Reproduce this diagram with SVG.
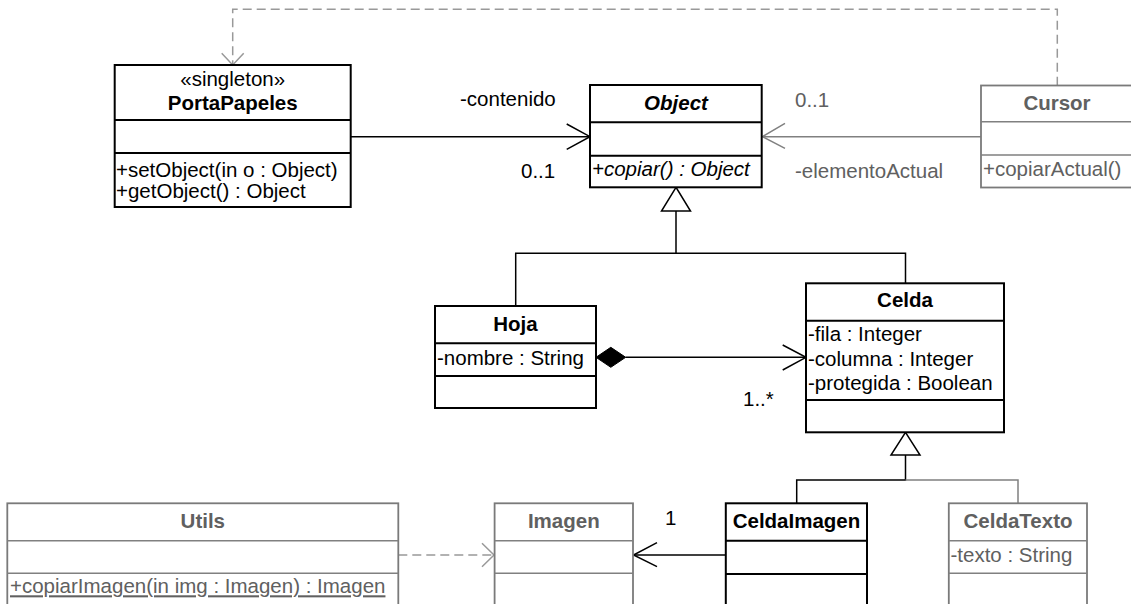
<svg xmlns="http://www.w3.org/2000/svg" width="1131" height="604" viewBox="0 0 1131 604">
<style>
text{font-family:"Liberation Sans",Arial,sans-serif;font-size:20.5px;fill:#000}
.b{font-weight:bold;text-anchor:middle}
.c{text-anchor:middle}
.box{fill:#fff;stroke:#000;stroke-width:2}
.gbox{fill:#fff;stroke:#7a7a7a;stroke-width:1.8}
.g text,text.g{fill:#606060}
.ln{fill:none;stroke:#000;stroke-width:1.5}
.gln{fill:none;stroke:#808080;stroke-width:1.5}
.dash{fill:none;stroke:#999;stroke-width:1.5;stroke-dasharray:9,5}
.dhead{fill:none;stroke:#999;stroke-width:1.5}
</style>
<rect width="1131" height="604" fill="#fff"/>
<g id="connectors">
  <path class="dash" d="M1057.3,85.7 V9.3 H232.7 V64"/>
  <path class="dhead" d="M221.7,53.3 L232.7,65 L243.7,53.3"/>
  <path class="ln" d="M350.7,136.7 H589"/>
  <path class="ln" d="M566.7,124 L590,136.7 L566.7,149.4"/>
  <path class="gln" d="M981,136.7 H763"/>
  <path class="gln" d="M785,123.3 L762.5,136.7 L785,148.3"/>
  <path class="ln" d="M515.7,306 V253.3 H905.5 V283.3 M676,211 V253.3"/>
  <polygon points="676,187.3 661.5,211 690.5,211" fill="#fff" stroke="#000" stroke-width="1.5"/>
  <path class="ln" d="M625.7,357.3 H805"/>
  <polygon points="596,357.3 610.8,347.3 625.7,357.3 610.8,367.3" fill="#000" stroke="#000" stroke-width="1"/>
  <path class="ln" d="M782.7,345 L806,357.3 L782.7,370"/>
  <path class="ln" d="M905.5,455 V480 H796.7 V503.3"/>
  <path class="gln" d="M905.5,480 H1018 V503.3"/>
  <polygon points="905.5,432.3 891,455 920,455" fill="#fff" stroke="#000" stroke-width="1.5"/>
  <path class="ln" d="M725.8,555 H634"/>
  <path class="ln" d="M657,542.7 L633.5,555 L657,566.7"/>
  <path class="dash" d="M398.3,555 H492"/>
  <path class="dhead" d="M482,543.3 L494,555 L482,566.7"/>
</g>
<g id="PortaPapeles">
  <rect class="box" x="114.7" y="65" width="236" height="142"/>
  <path class="ln" style="stroke-width:2" d="M114.7,120 H350.7 M114.7,153 H350.7"/>
  <text class="c" x="232.7" y="86">«singleton»</text>
  <text class="b" x="232.7" y="110">PortaPapeles</text>
  <text x="116" y="176.5">+setObject(in o : Object)</text>
  <text x="116" y="197.5">+getObject() : Object</text>
</g>
<g id="Object">
  <rect class="box" x="590" y="85" width="171.7" height="102.3"/>
  <path class="ln" style="stroke-width:2" d="M590,122.3 H761.7 M590,155.7 H761.7"/>
  <text class="b" x="676" y="110" font-style="italic">Object</text>
  <text x="592" y="176" font-style="italic">+copiar() : Object</text>
</g>
<g id="labels">
  <text x="460" y="106">-contenido</text>
  <text x="521" y="178">0..1</text>
  <text class="g" x="795" y="107">0..1</text>
  <text class="g" x="795" y="178">-elementoActual</text>
  <text x="743" y="406">1..*</text>
  <text x="665" y="525">1</text>
</g>
<g id="Cursor" class="g">
  <rect class="gbox" x="981" y="85.5" width="160" height="102"/>
  <path class="gln" d="M981,121.7 H1141 M981,155 H1141"/>
  <text class="b" x="1057" y="109.5">Cursor</text>
  <text x="983" y="176">+copiarActual()</text>
</g>
<g id="Hoja">
  <rect class="box" x="435" y="306" width="161" height="102"/>
  <path class="ln" style="stroke-width:2" d="M435,343.3 H596 M435,376 H596"/>
  <text class="b" x="515.5" y="330.5">Hoja</text>
  <text x="437" y="365">-nombre : String</text>
</g>
<g id="Celda">
  <rect class="box" x="806" y="283.3" width="198" height="149"/>
  <path class="ln" style="stroke-width:2" d="M806,320.7 H1004 M806,400 H1004"/>
  <text class="b" x="905" y="306.5">Celda</text>
  <text x="808" y="340.5">-fila : Integer</text>
  <text x="808" y="365.5">-columna : Integer</text>
  <text x="808" y="390">-protegida : Boolean</text>
</g>
<g id="Utils" class="g">
  <rect class="gbox" x="7.3" y="503.3" width="391" height="120"/>
  <path class="gln" d="M7.3,540.7 H398.3 M7.3,573.3 H398.3"/>
  <text class="b" x="202.8" y="527.5">Utils</text>
  <text x="10" y="593.3" text-decoration="underline">+copiarImagen(in img : Imagen) : Imagen</text>
</g>
<g id="Imagen" class="g">
  <rect class="gbox" x="494.6" y="503.3" width="138.4" height="120"/>
  <path class="gln" d="M494.6,540.7 H633 M494.6,573.3 H633"/>
  <text class="b" x="563.8" y="527.5">Imagen</text>
</g>
<g id="CeldaImagen">
  <rect class="box" x="725.8" y="503.3" width="141.2" height="120"/>
  <path class="ln" style="stroke-width:2" d="M725.8,540.7 H867 M725.8,574 H867"/>
  <text class="b" x="796.5" y="527.5">CeldaImagen</text>
</g>
<g id="CeldaTexto" class="g">
  <rect class="gbox" x="948.8" y="503.3" width="138.2" height="120"/>
  <path class="gln" d="M948.8,540.7 H1087 M948.8,573.3 H1087"/>
  <text class="b" x="1018" y="527.5">CeldaTexto</text>
  <text x="950.5" y="561.7">-texto : String</text>
</g>
</svg>
